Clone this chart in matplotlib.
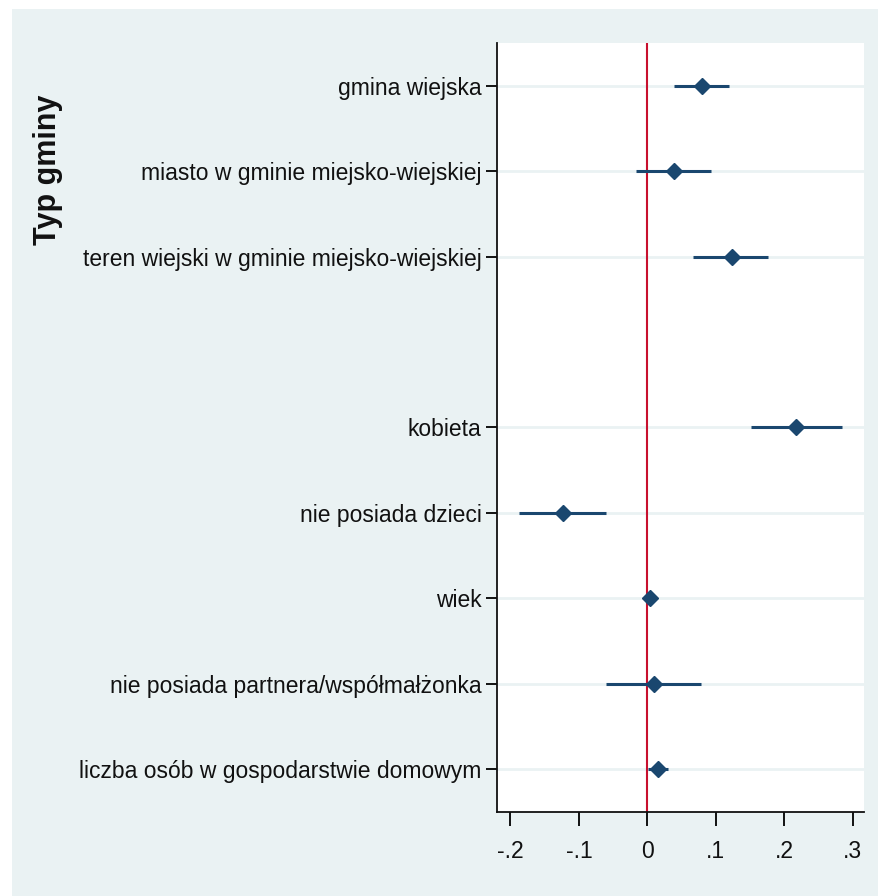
import matplotlib
matplotlib.use("Agg")
import matplotlib.pyplot as plt
from matplotlib.patches import Rectangle

# coefficient plot data
labels = ["gmina wiejska",
          "miasto w gminie miejsko-wiejskiej",
          "teren wiejski w gminie miejsko-wiejskiej",
          "kobieta",
          "nie posiada dzieci",
          "wiek",
          "nie posiada partnera/współmałżonka",
          "liczba osób w gospodarstwie domowym"]
rows = [1, 2, 3, 5, 6, 7, 8, 9]
coef = [0.080, 0.039, 0.124, 0.217, -0.123, 0.004, 0.010, 0.016]
ci_low = [0.039, -0.017, 0.067, 0.151, -0.188, 0.001, -0.060, 0.001]
ci_high = [0.119, 0.093, 0.177, 0.285, -0.060, 0.007, 0.078, 0.030]
xticks = [-0.2, -0.1, 0, 0.1, 0.2, 0.3]
xticklabels = ["-.2", "-.1", "0", ".1", ".2", ".3"]
group_label = "Typ gminy"

bg = "#eaf2f3"
navy = "#1a476f"
fam = ["Liberation Sans Narrow", "Liberation Sans", "DejaVu Sans"]

fig = plt.figure(figsize=(8.79, 8.96), dpi=100)
fig.patch.set_facecolor("white")
fig.patches.append(Rectangle((12 / 879, 0), 1, 1 - 9 / 896, transform=fig.transFigure,
                             facecolor=bg, edgecolor="none", zorder=-10))

ax = fig.add_axes([497 / 879, 1 - 812 / 896, (864 - 497) / 879, (812 - 43) / 896])
ax.set_facecolor("white")

for r in rows:
    ax.axhline(r, color=bg, lw=2, zorder=0)
ax.axvline(0, color="#c8102e", lw=1.5, zorder=1)

for r, c, lo, hi in zip(rows, coef, ci_low, ci_high):
    ax.plot([lo, hi], [r, r], color=navy, lw=2.2, solid_capstyle="butt", zorder=2)
ax.plot(coef, rows, linestyle="none", marker="D", markersize=8, color=navy, zorder=3)

ax.set_xlim(-0.2197, 0.3168)
ax.set_ylim(9.5, 0.5)
ax.set_yticks(rows)
ax.set_yticklabels(labels, fontsize=16.5, family=fam, color="#111111")
ax.set_xticks(xticks)
ax.set_xticklabels(xticklabels, fontsize=16.5, family=fam, color="#111111")
ax.tick_params(axis="y", length=8, width=1.3, pad=3)
ax.tick_params(axis="x", length=10, width=1.3, pad=10)

for s in ["top", "right"]:
    ax.spines[s].set_visible(False)
for s in ["left", "bottom"]:
    ax.spines[s].set_linewidth(1.3)
    ax.spines[s].set_color("#111111")

fig.text(48 / 879, 1 - 170 / 896, group_label, rotation=90, ha="center", va="center",
         fontsize=22, fontweight="bold", family=["Liberation Sans", "DejaVu Sans"], color="#111111")

fig.savefig("out.png", dpi=100, facecolor=fig.get_facecolor())
